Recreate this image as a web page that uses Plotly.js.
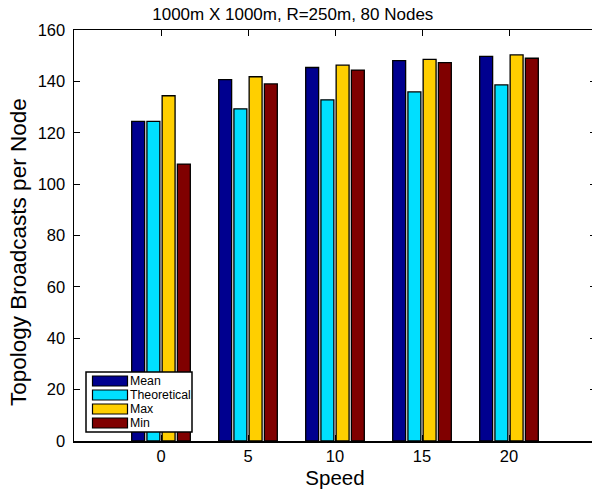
<!DOCTYPE html>
<html>
<head>
<meta charset="utf-8">
<script src="https://cdn.plot.ly/plotly-3.0.1.min.js"></script>
<style>
html, body { margin: 0; padding: 0; overflow: hidden; background: #fff; }
#chart { width: 600px; height: 491px; }
</style>
</head>
<body>
<div id="chart"></div>
<script>
const speeds = [0, 5, 10, 15, 20];
const meanVals = [124.4, 140.7, 145.4, 148.1, 149.7];
const theoVals = [124.4, 129.3, 132.8, 135.9, 138.6];
const maxVals = [134.4, 141.8, 146.3, 148.6, 150.3];
const minVals = [107.8, 139.0, 144.4, 147.3, 149.0];
const seriesNames = ['Mean', 'Theoretical', 'Max', 'Min'];
const seriesColors = ['#00008F', '#00DFFF', '#FFCF00', '#800000'];
const yTicks = [0, 20, 40, 60, 80, 100, 120, 140, 160];

const W = 600, H = 491;
const M = { l: 74, r: 4, t: 30, b: 50 };
const PW = W - M.l - M.r, PH = H - M.t - M.b;
const px2x = p => (p - M.l) / PW;
const px2y = p => (H - M.b - p) / PH;

const fam = 'Liberation Sans, Arial, Helvetica, sans-serif';

const allVals = [meanVals, theoVals, maxVals, minVals];
const traces = allVals.map((v, i) => ({
  type: 'bar',
  x: speeds,
  y: v,
  name: seriesNames[i],
  marker: { color: seriesColors[i], line: { color: '#000', width: 1.3 } }
}));

// custom legend (wide swatches like the original)
const shapes = [{
  type: 'rect', xref: 'paper', yref: 'paper', layer: 'above',
  x0: px2x(86), x1: px2x(192), y0: px2y(432), y1: px2y(372),
  fillcolor: '#fff', line: { color: '#000', width: 1.5 }
}];
const annotations = [];
seriesNames.forEach((n, i) => {
  const top = 376 + i * 14;
  shapes.push({
    type: 'rect', xref: 'paper', yref: 'paper', layer: 'above',
    x0: px2x(92.5), x1: px2x(127.5), y0: px2y(top + 10), y1: px2y(top),
    fillcolor: seriesColors[i], line: { color: '#000', width: 1.2 }
  });
  annotations.push({
    xref: 'paper', yref: 'paper', x: px2x(127.5), y: px2y(top + 5),
    xanchor: 'left', yanchor: 'middle', showarrow: false,
    text: n, font: { family: fam, size: 12.3, color: '#000' }
  });
});
annotations.push({
  xref: 'paper', yref: 'paper', x: px2x(18), y: px2y(252),
  xanchor: 'center', yanchor: 'middle', showarrow: false, textangle: -90,
  text: 'Topology Broadcasts per Node', font: { family: fam, size: 22.5, color: '#000' }
});

const layout = {
  width: W,
  height: H,
  margin: M,
  paper_bgcolor: '#fff',
  plot_bgcolor: '#fff',
  font: { family: fam, color: '#000' },
  barmode: 'group',
  bargap: 0.3,
  bargroupgap: 0.15,
  showlegend: false,
  title: {
    text: '1000m X 1000m, R=250m, 80 Nodes',
    font: { family: fam, size: 17, color: '#000' },
    x: 0.488, xref: 'container', xanchor: 'center',
    y: 0.972, yref: 'container', yanchor: 'middle'
  },
  xaxis: {
    range: [-5, 25],
    tickvals: speeds,
    ticktext: speeds.map(String),
    ticks: 'inside',
    ticklen: 6,
    tickcolor: '#000',
    showline: true,
    linecolor: '#000',
    linewidth: 1.5,
    mirror: 'allticks',
    showgrid: false,
    zeroline: false,
    tickfont: { family: fam, size: 16.5, color: '#000' },
    title: { text: 'Speed', font: { family: fam, size: 20.5, color: '#000' }, standoff: 6 }
  },
  yaxis: {
    range: [0, 160],
    tickvals: yTicks,
    ticks: 'inside',
    ticklen: 6,
    tickcolor: '#000',
    showline: true,
    linecolor: '#000',
    linewidth: 1.5,
    mirror: 'allticks',
    showgrid: false,
    zeroline: false,
    ticklabelstandoff: 4,
    tickfont: { family: fam, size: 16.5, color: '#000' }
  },
  shapes: shapes,
  annotations: annotations
};

Plotly.newPlot('chart', traces, layout, { displayModeBar: false, staticPlot: true });
</script>
</body>
</html>
